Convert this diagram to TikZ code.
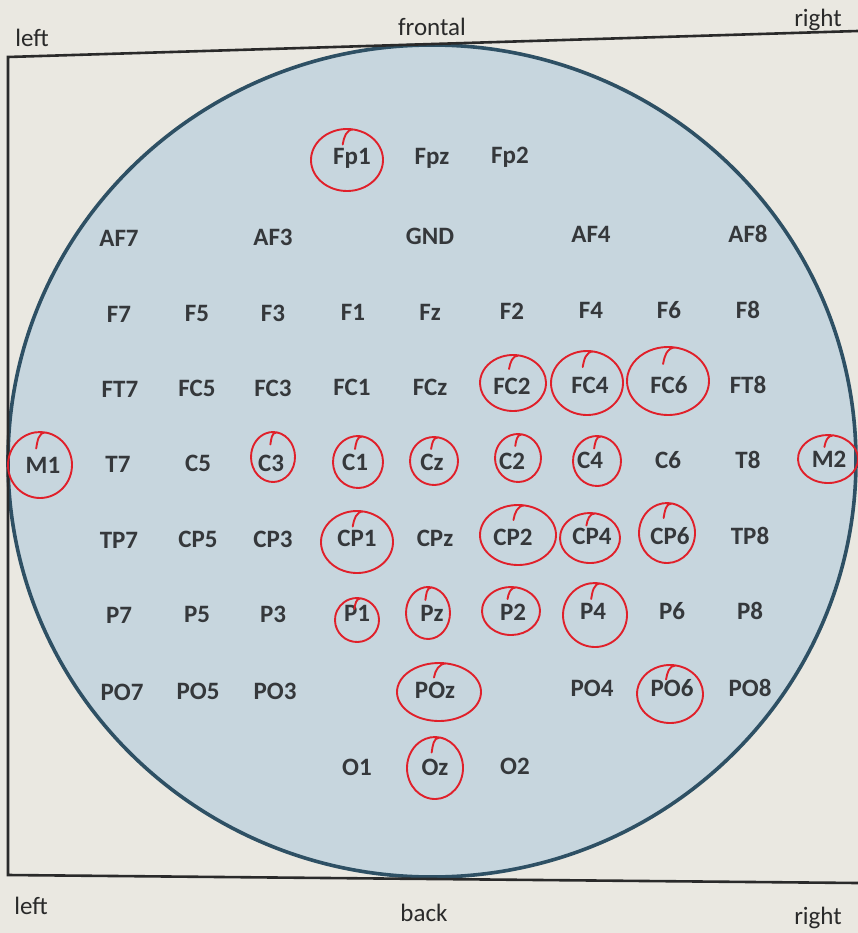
\documentclass[tikz,border=0pt]{standalone}
\usepackage{fontspec}
\setmainfont{Carlito}
\definecolor{paper}{HTML}{EAE8E1}
\definecolor{scalpfill}{HTML}{C7D6DE}
\definecolor{scalpline}{HTML}{2E5064}
\definecolor{ink}{HTML}{35383B}
\definecolor{frameink}{HTML}{2A2A2A}
\definecolor{penred}{HTML}{E0202A}

% electrode label at (x, y) in pixel-like units, y measured downwards
\newcommand\elec[3]{\node[electrode] (#1) at ({#2},{-#3+0.008*(#2-432)}) {#1};}
% hand-drawn red ring: centre x, centre y, x radius, y radius
\newcommand\ring[4]{\draw[ringline] ({#1-0.12*#3},{-#2+0.5*#4})
  to[out=80,in=180] ({#1+0.1736*#3},{-#2+0.9848*#4})
  arc[start angle=80,end angle=-292,x radius=#3,y radius=#4];}

\begin{document}
\begin{tikzpicture}[x=1pt,y=1pt,
  electrode/.style={font=\bfseries\fontsize{25}{25}\selectfont, text=ink, inner sep=0pt},
  side/.style={font=\fontsize{25}{25}\selectfont, text=frameink, inner sep=0pt},
  ringline/.style={draw=penred, line width=1.9pt, line cap=round, line join=round},
  frameline/.style={draw=frameink, line width=2.6pt},
  scalp/.style={fill=scalpfill, draw=scalpline, line width=3.6pt}]

\fill[paper] (0,0) rectangle (858,-933);
\useasboundingbox (0,0) rectangle (858,-933);

% head outline and page frame
\draw[scalp] (432,-461) ellipse [x radius=424, y radius=416];
\draw[frameline] (858,-31) -- (8,-57) -- (8,-875) -- (858,-883);

% orientation labels
\node[side] (topleft)  at (32,-38)  {left};
\node[side] (front)    at (432,-27) {frontal};
\node[side] (topright) at (818,-20) {right};
\node[side] (botleft)  at (31,-906) {left};
\node[side] (back)     at (424,-913){back};
\node[side] (botright) at (818,-918){right};

% electrodes, row by row
\elec{Fp1}{352}{158} \elec{Fpz}{432}{158} \elec{Fp2}{510}{158}

\elec{AF7}{119}{236} \elec{AF3}{273}{236} \elec{GND}{430}{236}
\elec{AF4}{591}{236} \elec{AF8}{748}{236}

\elec{F7}{119}{312} \elec{F5}{197}{312} \elec{F3}{273}{312}
\elec{F1}{353}{312} \elec{Fz}{430}{312} \elec{F2}{512}{312}
\elec{F4}{591}{312} \elec{F6}{669}{312} \elec{F8}{748}{312}

\elec{FT7}{120}{387} \elec{FC5}{197}{387} \elec{FC3}{273}{387}
\elec{FC1}{352}{387} \elec{FCz}{430}{387} \elec{FC2}{512}{387}
\elec{FC4}{590}{387} \elec{FC6}{669}{387} \elec{FT8}{748}{387}

\elec{M1}{43}{462} \elec{T7}{118}{462} \elec{C5}{198}{462}
\elec{C3}{271}{462} \elec{C1}{355}{462} \elec{Cz}{432}{462}
\elec{C2}{512}{462} \elec{C4}{590}{462} \elec{C6}{668}{462}
\elec{T8}{748}{462} \elec{M2}{829}{462}

\elec{TP7}{119}{538} \elec{CP5}{198}{538} \elec{CP3}{273}{538}
\elec{CP1}{357}{538} \elec{CPz}{435}{538} \elec{CP2}{513}{538}
\elec{CP4}{592}{538} \elec{CP6}{670}{538} \elec{TP8}{750}{538}

\elec{P7}{119}{613} \elec{P5}{197}{613} \elec{P3}{273}{613}
\elec{P1}{357}{613} \elec{Pz}{432}{613} \elec{P2}{513}{613}
\elec{P4}{593}{613} \elec{P6}{672}{613} \elec{P8}{750}{613}

\elec{PO7}{122}{690} \elec{PO5}{198}{690} \elec{PO3}{275}{690}
\elec{POz}{435}{690} \elec{PO4}{592}{690} \elec{PO6}{672}{690}
\elec{PO8}{750}{690}

\elec{O1}{357}{767} \elec{Oz}{435}{767} \elec{O2}{515}{767}

% marked electrodes
\ring{347}{160}{36}{31}
\ring{513}{383}{33}{28}
\ring{587}{383}{36}{32}
\ring{668}{381}{41}{34}
\ring{40}{465}{32}{33}
\ring{273}{457}{22}{25}
\ring{358}{462}{25}{26}
\ring{434}{461}{24}{24}
\ring{518}{458}{23}{24}
\ring{597}{461}{24}{25}
\ring{828}{459}{30}{24}
\ring{357}{542}{36}{31}
\ring{518}{535}{38}{30}
\ring{590}{538}{30}{25}
\ring{667}{533}{28}{30}
\ring{357}{620}{22}{22}
\ring{428}{613}{22}{26}
\ring{511}{611}{29}{24}
\ring{595}{615}{32}{32}
\ring{439}{692}{42}{29}
\ring{670}{694}{33}{29}
\ring{435}{768}{28}{31}
\end{tikzpicture}
\end{document}
